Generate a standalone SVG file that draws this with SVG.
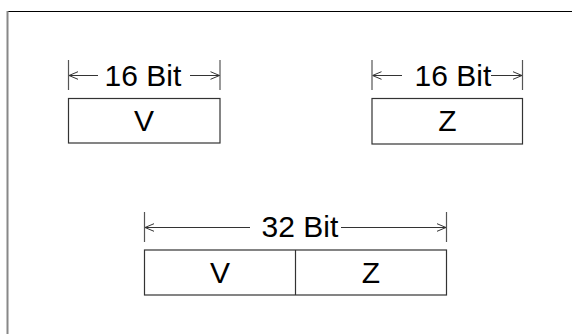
<svg xmlns="http://www.w3.org/2000/svg" width="572" height="334" viewBox="0 0 572 334">
<defs>
<style>
.box{fill:#fff;stroke:#333;stroke-width:1.2}
.tick{stroke:#555;stroke-width:1.2}
.dim{stroke:#333;stroke-width:1;fill:none}
.t{font-family:"Liberation Sans",Arial,sans-serif;font-size:30px;fill:#000}
</style>
<marker id="ah" viewBox="0 0 10 10" refX="10" refY="5" markerWidth="10" markerHeight="10" markerUnits="userSpaceOnUse" orient="auto-start-reverse">
<path d="M1,1.2 L10,5 L1,8.8" fill="none" stroke="#333" stroke-width="1"/>
</marker>
</defs>
<rect x="0" y="0" width="572" height="334" fill="#fff"/>
<line x1="7" y1="11.5" x2="572" y2="11.5" stroke="#000" stroke-width="1"/>
<line x1="7.5" y1="11" x2="7.5" y2="334" stroke="#888" stroke-width="2"/>
<g id="connectors">
<line class="tick" x1="68.5" y1="60" x2="68.5" y2="90"/>
<line class="tick" x1="220" y1="60" x2="220" y2="90"/>
<line class="dim" x1="69" y1="75.5" x2="98" y2="75.5" marker-start="url(#ah)"/>
<line class="dim" x1="190" y1="75.5" x2="219.5" y2="75.5" marker-end="url(#ah)"/>
<line class="tick" x1="372" y1="60" x2="372" y2="90"/>
<line class="tick" x1="522.5" y1="60" x2="522.5" y2="90"/>
<line class="dim" x1="372.5" y1="75.5" x2="402" y2="75.5" marker-start="url(#ah)"/>
<line class="dim" x1="491" y1="75.5" x2="522" y2="75.5" marker-end="url(#ah)"/>
<line class="tick" x1="144.5" y1="212" x2="144.5" y2="242"/>
<line class="tick" x1="446.5" y1="212" x2="446.5" y2="242"/>
<line class="dim" x1="145" y1="227.5" x2="250" y2="227.5" marker-start="url(#ah)"/>
<line class="dim" x1="341" y1="227.5" x2="446" y2="227.5" marker-end="url(#ah)"/>
</g>
<g id="label16a"><text class="t" x="104.5" y="86">16 Bit</text></g>
<g id="label16b"><text class="t" x="414.5" y="86">16 Bit</text></g>
<g id="label32"><text class="t" x="261.5" y="237">32 Bit</text></g>
<g id="boxV"><rect class="box" x="68.5" y="98.5" width="151.5" height="44.5"/><text class="t" x="144" y="131" text-anchor="middle">V</text></g>
<g id="boxZ"><rect class="box" x="372" y="98.5" width="150.5" height="45.5"/><text class="t" x="447.5" y="131" text-anchor="middle">Z</text></g>
<g id="boxVZ"><rect class="box" x="144.5" y="250" width="302" height="45"/><line class="box" x1="295.5" y1="250" x2="295.5" y2="295"/><text class="t" x="220" y="283" text-anchor="middle">V</text><text class="t" x="371" y="283" text-anchor="middle">Z</text></g>
</svg>
